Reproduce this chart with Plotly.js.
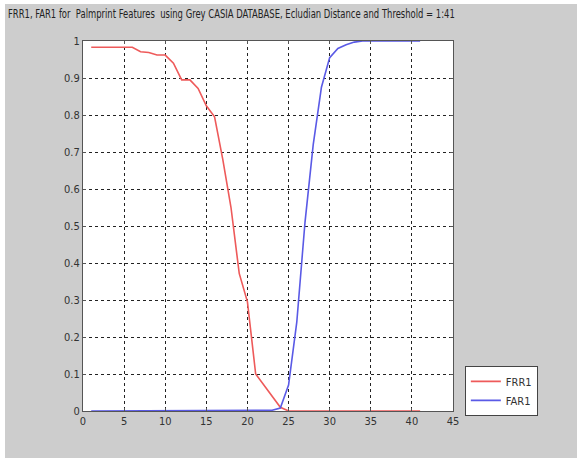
<!DOCTYPE html>
<html>
<head>
<meta charset="utf-8">
<script src="https://cdn.plot.ly/plotly-3.0.1.min.js"></script>
<style>
html,body{margin:0;padding:0;background:#ffffff;width:577px;height:458px;overflow:hidden;}
#chart{position:absolute;left:5px;top:4px;width:572px;height:454px;}
</style>
</head>
<body>
<div id="chart"></div>
<script>
const thresholds = [1,2,3,4,5,6,7,8,9,10,11,12,13,14,15,16,17,18,19,20,21,22,23,24,25,26,27,28,29,30,31,32,33,34,35,36,37,38,39,40,41];
const frr1 = [0.983,0.983,0.983,0.983,0.983,0.983,0.971,0.969,0.962,0.962,0.94,0.895,0.895,0.872,0.825,0.795,0.68,0.55,0.372,0.295,0.10,0.07,0.04,0.01,0,0,0,0,0,0,0,0,0,0,0,0,0,0,0,0,0];
const far1 = [0,0,0,0,0,0,0,0,0,0,0,0,0,0,0,0,0,0,0,0,0,0,0.002,0.008,0.07,0.24,0.51,0.72,0.875,0.955,0.98,0.99,0.997,1,1,1,1,1,1,1,1];
const seriesNames = ['FRR1','FAR1'];
const xTicks = [0,5,10,15,20,25,30,35,40,45];
const yTicks = [0,0.1,0.2,0.3,0.4,0.5,0.6,0.7,0.8,0.9,1];
const yTickText = ['0','0.1','0.2','0.3','0.4','0.5','0.6','0.7','0.8','0.9','1'];
const titleText = 'FRR1, FAR1 for  Palmprint Features  using Grey CASIA DATABASE, Ecludian Distance and Threshold = 1:41';

const fontFam = '"Liberation Sans Narrow", "Arial Narrow", "DejaVu Sans Condensed", "Liberation Sans", Arial, sans-serif';

const traces = [
  {x: thresholds, y: frr1, name: seriesNames[0], type: 'scatter', mode: 'lines',
   line: {color: '#ee5a5a', width: 1.6}},
  {x: thresholds, y: far1, name: seriesNames[1], type: 'scatter', mode: 'lines',
   line: {color: '#5a5ae6', width: 1.6}}
];

const axisCommon = {
  showline: true, mirror: 'ticks', linecolor: '#555555', linewidth: 1,
  ticks: 'inside', ticklen: 3, tickcolor: '#555555',
  showgrid: true, gridcolor: '#222222', griddash: 'dot', gridwidth: 1,
  zeroline: false,
  tickfont: {family: fontFam, size: 11, color: '#333333'}
};

const layout = {
  width: 572, height: 454,
  paper_bgcolor: '#cdcdcd', plot_bgcolor: '#ffffff',
  margin: {l: 78, r: 124, t: 37, b: 47},
  title: {text: titleText, font: {family: fontFam, size: 11.5, color: '#222222'},
          x: 3/572, xanchor: 'left', xref: 'container', y: 0.978, yanchor: 'middle', yref: 'container'},
  xaxis: Object.assign({}, axisCommon, {range: [0, 45], tickvals: xTicks, ticktext: xTicks.map(String)}),
  yaxis: Object.assign({}, axisCommon, {range: [0, 1], tickvals: yTicks, ticktext: yTickText}),
  showlegend: true,
  legend: {x: 1.032, xanchor: 'left', y: 0.122, yanchor: 'top',
           bgcolor: '#ffffff', bordercolor: '#444444', borderwidth: 1,
           font: {family: fontFam, size: 11, color: '#333333'},
           itemwidth: 30, tracegroupgap: 0}
};

Plotly.newPlot('chart', traces, layout, {displayModeBar: false, staticPlot: true}).then(function(gd){
  // condense the title horizontally to mimic the narrow MATLAB font
  const t = gd.querySelector('.g-gtitle text.gtitle');
  if (t) {
    const bb = t.getBBox();
    const target = 447;
    if (bb.width > target) {
      const s = target / bb.width;
      const x0 = bb.x;
      const g = t.parentNode;
      g.setAttribute('transform', 'translate(' + x0 + ',0) scale(' + s + ',1) translate(' + (-x0) + ',0)');
    }
  }
});
</script>
</body>
</html>
